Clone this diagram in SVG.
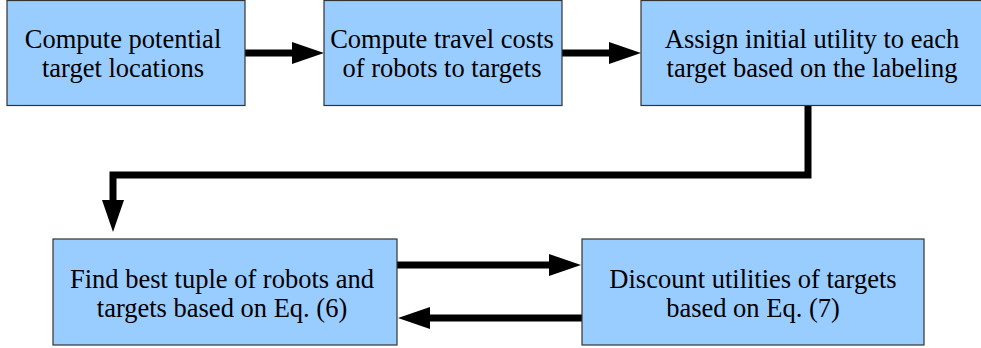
<svg xmlns="http://www.w3.org/2000/svg" width="981" height="348" viewBox="0 0 981 348">
<style>
.box{fill:#99ccff;stroke:#333;stroke-width:1.2}
.t{font-family:"Liberation Serif","Times New Roman",serif;font-size:26.5px;fill:#000;text-anchor:middle}
.c{fill:none;stroke:#000;stroke-width:7;marker-end:url(#ah)}
</style>
<defs>
<marker id="ah" viewBox="0 0 32 22" refX="20" refY="11" markerWidth="32" markerHeight="22" markerUnits="userSpaceOnUse" orient="auto">
<path d="M0,0 L32,11 L0,22 Z" fill="#000"/>
</marker>
</defs>
<rect width="981" height="348" fill="#fff"/>
<g id="connectors">
<path class="c" d="M245,53 H312"/>
<path class="c" d="M562,53 H629"/>
<path class="c" d="M808,106 V175 H113 V220"/>
<path class="c" d="M397,265 H569"/>
<path class="c" d="M582,318 H410"/>
</g>
<g id="n1">
<rect class="box" x="7" y="0.5" width="238" height="105"/>
<text class="t" x="123" y="48">Compute potential</text>
<text class="t" x="123" y="77">target locations</text>
</g>
<g id="n2">
<rect class="box" x="324" y="0.5" width="238" height="105"/>
<text class="t" x="442" y="48">Compute travel costs</text>
<text class="t" x="442" y="77">of robots to targets</text>
</g>
<g id="n3">
<rect class="box" x="641" y="0.5" width="343" height="105"/>
<text class="t" x="812" y="48">Assign initial utility to each</text>
<text class="t" x="812" y="77">target based on the labeling</text>
</g>
<g id="n4">
<rect class="box" x="53" y="239" width="344" height="106"/>
<text class="t" x="222" y="288">Find best tuple of robots and</text>
<text class="t" x="222" y="317">targets based on Eq. (6)</text>
</g>
<g id="n5">
<rect class="box" x="582" y="239" width="342" height="106"/>
<text class="t" x="753" y="288">Discount utilities of targets</text>
<text class="t" x="753" y="317">based on Eq. (7)</text>
</g>
</svg>
